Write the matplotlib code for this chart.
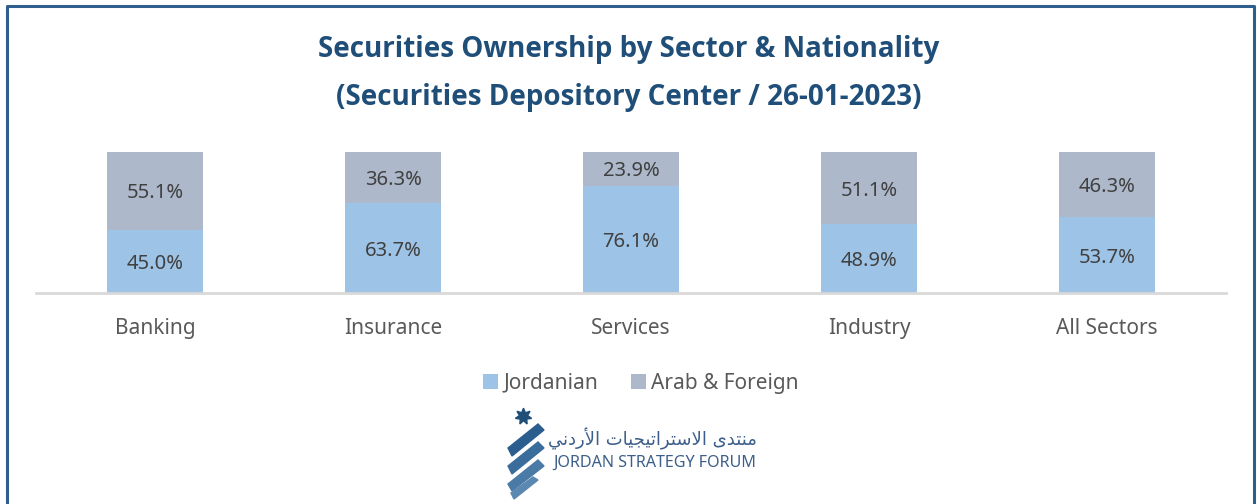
import matplotlib
matplotlib.use("Agg")
import matplotlib.pyplot as plt
from matplotlib.lines import Line2D
from matplotlib.patches import Polygon

sectors = ["Banking", "Insurance", "Services", "Industry", "All Sectors"]
jordanian = [45.0, 63.7, 76.1, 48.9, 53.7]
arab_foreign = [55.1, 36.3, 23.9, 51.1, 46.3]

c_jo = "#9DC3E6"
c_af = "#ADB9CA"
navy = "#1F4E79"
txt = "#404040"

plt.rcParams["font.family"] = ["Noto Sans", "DejaVu Sans"]

W, H = 1257, 504
fig = plt.figure(figsize=(W / 100, H / 100), dpi=100)
fig.patch.set_facecolor("white")


def fx(px):
    return px / W


def fy(py):
    return 1 - py / H


ax = fig.add_axes([fx(36), fy(293), fx(1226) - fx(36), (293 - 152) / H])
x = range(len(sectors))
ax.bar(x, jordanian, width=0.4, color=c_jo, label="Jordanian")
ax.bar(x, arab_foreign, width=0.4, bottom=jordanian, color=c_af, label="Arab & Foreign")

for i in x:
    ax.text(i, jordanian[i] / 2, f"{jordanian[i]:.1f}%", ha="center",
            va="center_baseline", fontsize=14.5, color=txt)
    ax.text(i, jordanian[i] + arab_foreign[i] / 2, f"{arab_foreign[i]:.1f}%",
            ha="center", va="center_baseline", fontsize=14.5, color=txt)

ax.set_xlim(-0.5, len(sectors) - 0.5)
ax.set_ylim(0, 100.1)
ax.set_yticks([])
ax.set_xticks(list(x))
ax.set_xticklabels(sectors, fontsize=15, color="#595959")
ax.tick_params(axis="x", length=0, pad=18)
for s in ["top", "right", "left"]:
    ax.spines[s].set_visible(False)
ax.spines["bottom"].set_color("#D9D9D9")
ax.spines["bottom"].set_linewidth(2)

fig.text(0.5, fy(50), "Securities Ownership by Sector & Nationality", ha="center",
         va="center", fontsize=20, fontweight="bold", color=navy,
         family=["Open Sans", "DejaVu Sans"])
fig.text(0.5, fy(97), "(Securities Depository Center / 26-01-2023)", ha="center",
         va="center", fontsize=20, fontweight="bold", color=navy,
         family=["Open Sans", "DejaVu Sans"])

leg = fig.legend(loc="center", bbox_to_anchor=(fx(641), fy(383)), ncol=2, frameon=False,
                 fontsize=15, handlelength=0.7, handleheight=0.7, handletextpad=0.25,
                 columnspacing=1.6, labelcolor="#595959")

# border (left, top, right)
bc = "#2E5E8E"
fig.add_artist(Line2D([fx(6.5), fx(6.5), fx(1254), fx(1254)],
                      [0, fy(5.5), fy(5.5), 0], color=bc, lw=2.2))

# logo: star + ribbons
fig.add_artist(Line2D([fx(523)], [fy(416)], marker=(7, 1, 0), markersize=12,
                      color=navy, transform=fig.transFigure))
ribbons = [
    [(544, 430), (538, 424), (508, 448), (512, 456)],
    [(544, 448), (538, 442), (508, 466), (512, 474)],
    [(544, 466), (538, 460), (508, 484), (512, 491)],
    [(538, 480), (533, 477), (511, 493), (514, 499)],
]
shades = ["#2B5D8E", "#3B6D9C", "#4A7AA6", "#5B88B0"]
for pts, sc in zip(ribbons, shades):
    fig.add_artist(Polygon([(fx(a), fy(b)) for a, b in pts], closed=True,
                           color=sc, transform=fig.transFigure))

# Arabic name as presentation forms, reversed for left-to-right drawing
arabic = ("\uFEE3\uFEE8\uFE98\uFEAA\uFEEF" + " " +
          "\uFE8D\uFEFB\uFEB3\uFE98\uFEAE\uFE8D\uFE97\uFEF4\uFEA0\uFEF4\uFE8E\uFE95" + " " +
          "\uFE8D\uFEF7\uFEAD\uFEA9\uFEE7\uFEF2")
fig.text(fx(757), fy(439), arabic[::-1], ha="right", va="center", fontsize=13,
         color="#3D5F8A", family=["DejaVu Sans"])
fig.text(fx(553), fy(463), "JORDAN STRATEGY FORUM", ha="left", va="center",
         fontsize=11.6, color="#3D5F8A")

fig.savefig("out.png", dpi=100, facecolor="white")
